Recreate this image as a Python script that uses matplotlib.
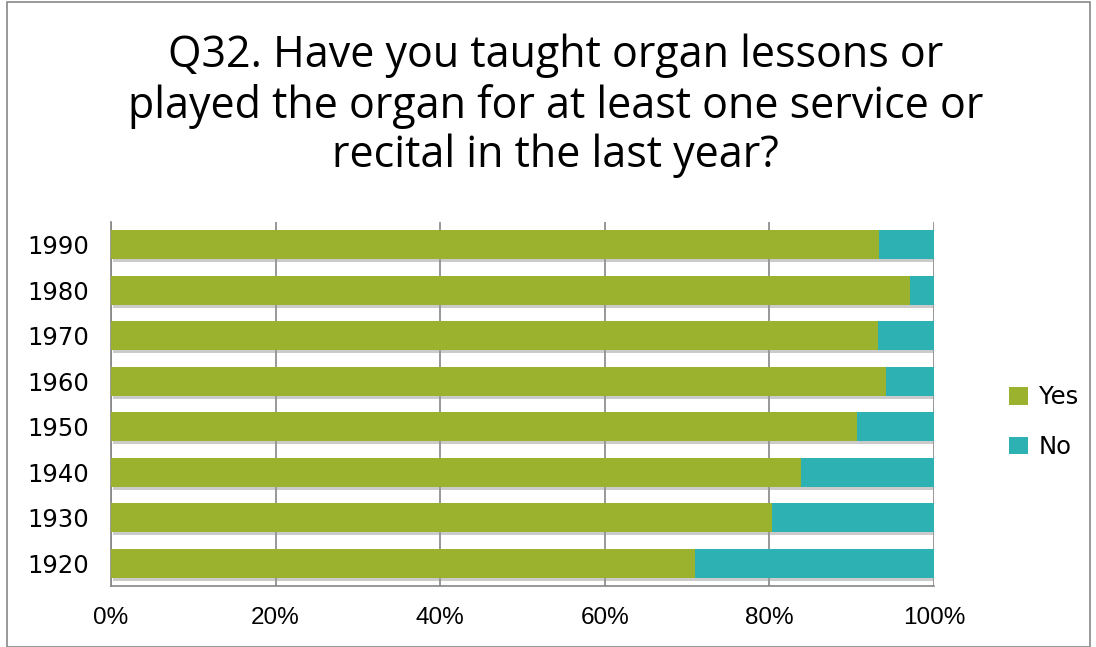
import matplotlib.pyplot as plt
from matplotlib.patches import Rectangle
import matplotlib.patheffects as pe

years = ["1920", "1930", "1940", "1950", "1960", "1970", "1980", "1990"]
yes = [71.0, 80.3, 83.9, 90.7, 94.2, 93.2, 97.1, 93.3]
no = [100 - v for v in yes]

green = "#9BB22E"
teal = "#2EB1B2"

plt.rcParams["font.family"] = ["Liberation Sans", "DejaVu Sans"]

fig = plt.figure(figsize=(10.96, 6.47), dpi=100)
ax = fig.add_axes([111 / 1096, 1 - 586 / 647, 823 / 1096, 364 / 647])

shadow = [pe.SimplePatchShadow(offset=(1.5, -2), shadow_rgbFace="#999999", alpha=0.5), pe.Normal()]
b1 = ax.barh(years, yes, height=0.64, color=green, label="Yes", zorder=3)
b2 = ax.barh(years, no, left=yes, height=0.64, color=teal, label="No", zorder=3)
for bar in list(b1) + list(b2):
    bar.set_path_effects(shadow)

ax.set_xlim(0, 100)
ax.set_ylim(-0.5, len(years) - 0.5)
ax.set_xticks([0, 20, 40, 60, 80, 100])
ax.set_xticklabels([f"{t}%" for t in [0, 20, 40, 60, 80, 100]])
ax.xaxis.grid(True, color="#868686", linewidth=1.2, zorder=0)
ax.tick_params(axis="both", length=0, colors="black")
ax.tick_params(axis="x", pad=15, labelsize=17.5)
ax.tick_params(axis="y", pad=16)
for lbl in ax.get_yticklabels():
    lbl.set_fontfamily("DejaVu Sans")
    lbl.set_fontsize(17.5)
for s in ["top", "right"]:
    ax.spines[s].set_visible(False)
for s in ["left", "bottom"]:
    ax.spines[s].set_color("#868686")
    ax.spines[s].set_linewidth(1.2)

fig.text(0.507, 1 - 106 / 647,
         "Q32. Have you taught organ lessons or\nplayed the organ for at least one service or\nrecital in the last year?",
         ha="center", va="center", fontsize=31, linespacing=1.16,
         family=["Open Sans", "DejaVu Sans"])

leg = ax.legend(loc="center left", bbox_to_anchor=(1.065, 0.45), frameon=False,
                prop={"family": "DejaVu Sans", "size": 17.5}, handlelength=0.75,
                handleheight=0.75, labelspacing=1.05, handletextpad=0.45)
for h in leg.legend_handles:
    h.set_path_effects([])

fig.add_artist(Rectangle((7 / 1096, 0), 1083 / 1096, 1 - 2 / 647, transform=fig.transFigure,
                         fill=False, edgecolor="#888888", linewidth=1.2))

fig.savefig("out.png", dpi=100)
